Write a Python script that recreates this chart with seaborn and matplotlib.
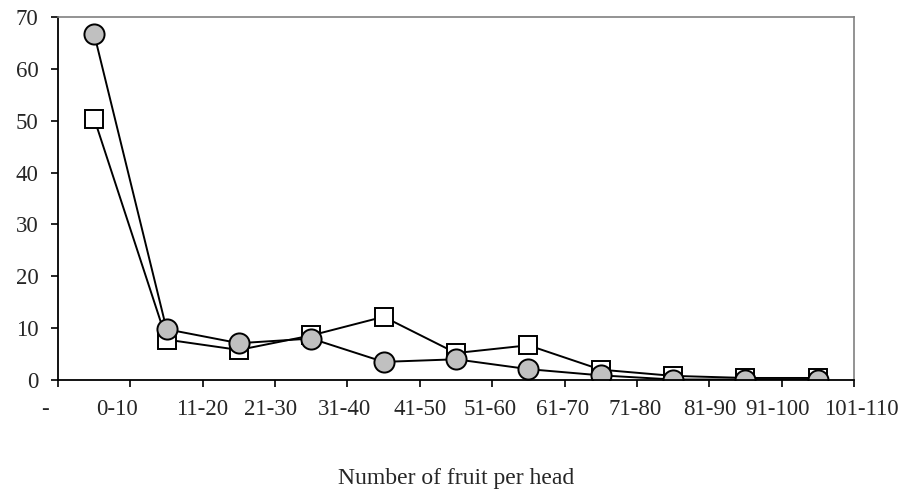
import numpy as np
import pandas as pd
import matplotlib
matplotlib.use('Agg')
import matplotlib.pyplot as plt
import matplotlib.transforms as mtransforms
import seaborn as sns

# категории (интервалы) и подписи на границах
bins = ['0-10', '11-20', '21-30', '31-40', '41-50', '51-60',
        '61-70', '71-80', '81-90', '91-100', '101-110']
tick_labels = ['-'] + bins
squares = [50.4, 7.8, 5.8, 8.6, 12.2, 5.2, 6.7, 2.0, 0.8, 0.4, 0.4]
circles = [66.7, 9.8, 7.1, 8.0, 3.5, 4.0, 2.1, 0.9, 0.1, 0.1, 0.1]

sns.set_style('ticks')
plt.rcParams['font.family'] = ['Liberation Serif', 'DejaVu Serif']

pos = np.arange(len(bins)) + 0.5
df = pd.DataFrame({'pos': pos, 'squares': squares, 'circles': circles})

fig = plt.figure(figsize=(9.08, 4.91), dpi=100)
ax = fig.add_axes([0.0639, 0.226, 0.8766, 0.7394])

sns.lineplot(data=df, x='pos', y='squares', ax=ax, color='black', lw=1.4,
             marker='s', markersize=13, markerfacecolor='white',
             markeredgecolor='black', markeredgewidth=1.4)
sns.lineplot(data=df, x='pos', y='circles', ax=ax, color='black', lw=1.4,
             marker='o', markersize=14.5, markerfacecolor='#c0c0c0',
             markeredgecolor='black', markeredgewidth=1.4)

ax.set_xlim(0, len(bins))
ax.set_ylim(0, 70)
ax.set_xticks(np.arange(len(tick_labels)))
ax.set_xticklabels(tick_labels)
ax.set_yticks(range(0, 71, 10))
ax.tick_params(axis='both', labelsize=16.5, direction='out', length=5, width=1.2, color='black')
ax.tick_params(axis='y', pad=9)
ax.tick_params(axis='x', pad=9)

# сдвиг подписей как в исходном графике (в пикселях)
shifts = [-13, -13, -1, -5, -3, 0, -2, -2, -2, 1, -4, 7]
for lab, dx in zip(ax.get_xticklabels(), shifts):
    lab.set_transform(lab.get_transform() +
                      mtransforms.ScaledTranslation(dx / 100, 0, fig.dpi_scale_trans))

for s in ['top', 'right']:
    ax.spines[s].set_color('#808080')
    ax.spines[s].set_linewidth(1.2)
for s in ['left', 'bottom']:
    ax.spines[s].set_color('black')
    ax.spines[s].set_linewidth(1.3)

ax.set_ylabel('')
ax.set_xlabel('Number of fruit per head', fontsize=17, labelpad=34)

fig.savefig('out.png', dpi=100)
